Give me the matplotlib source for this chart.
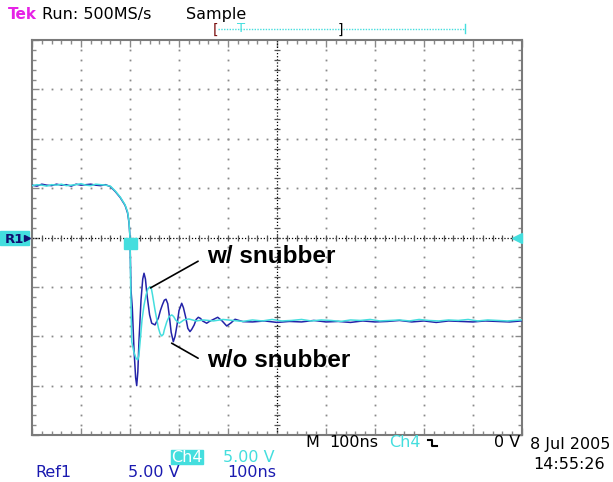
import matplotlib
matplotlib.use("Agg")
import matplotlib.pyplot as plt
import numpy as np
from matplotlib.patches import Rectangle
from matplotlib.ticker import MultipleLocator

W, H = 613, 482

# Ch4: with snubber (cyan), time in ns, voltage in V
t_ch4 = [-200, -190, -180, -170, -160, -150, -140, -130, -120, -110, -100, -90, -80, -70, -60, -50,
         -40, -30, -20, -10, -5, -2, 0, 1.5, 3.5, 8, 12, 15.7, 18, 20, 24.5, 28.5, 32.7, 36.5, 40.8,
         43.5, 46, 51, 58, 61.5, 64.7, 68, 70, 75, 80, 85.3, 89, 93, 100.6, 110, 120, 135, 150, 170,
         190, 210, 230, 250, 270, 290, 310, 330, 350, 370, 390, 410, 430, 450, 470, 490, 510, 530,
         550, 570, 590, 610, 630, 650, 670, 690, 710, 730, 750, 770, 798]
v_ch4 = [5.25, 5.35, 5.3, 5.2, 5.35, 5.3, 5.4, 5.25, 5.3, 5.35, 5.45, 5.3, 5.25, 5.4, 5.35, 5.3,
         5.2, 4.7, 4.1, 3.3, 2.6, 1.6, 0.0, -5.3, -10.55, -11.6, -12.2, -12.4, -12.0, -10.9, -8.35,
         -6.9, -5.82, -5.2, -4.98, -5.15, -5.82, -7.34, -9.16, -9.75, -9.97, -9.8, -9.36, -8.55,
         -8.0, -7.84, -8.0, -8.35, -8.68, -8.35, -8.25, -8.45, -8.35, -8.45, -8.3, -8.4, -8.5,
         -8.35, -8.45, -8.3, -8.45, -8.4, -8.3, -8.45, -8.35, -8.4, -8.5, -8.35, -8.4, -8.3, -8.45,
         -8.4, -8.35, -8.45, -8.3, -8.4, -8.45, -8.35, -8.4, -8.3, -8.45, -8.35, -8.4, -8.45, -8.35]

# Ref1: without snubber (dark blue)
t_ref1 = [-200, -190, -180, -170, -160, -150, -140, -130, -120, -110, -100, -90, -80, -70, -60, -50,
          -40, -30, -20, -10, -5, -2, 0, 2, 4.7, 8.2, 11.5, 13.7, 16, 18.4, 22.5, 26, 28.6, 31.5,
          34.7, 40, 44.3, 51, 58, 62, 66, 70, 73.5, 77, 80, 84, 88.4, 92, 96, 100, 105.5, 109, 114,
          118, 122.4, 126, 131, 135, 139.4, 144, 148, 156.5, 162, 168, 179, 188, 197.3, 206, 214.3,
          230.6, 250, 275, 300, 325, 350, 375, 400, 425, 450, 475, 500, 525, 550, 575, 600, 625, 650,
          675, 700, 725, 750, 775, 798]
v_ref1 = [5.3, 5.2, 5.4, 5.3, 5.25, 5.4, 5.3, 5.35, 5.2, 5.4, 5.3, 5.35, 5.4, 5.3, 5.25, 5.35,
          5.15, 4.65, 4.05, 3.25, 2.5, 1.5, 0.0, -5.3, -7.13, -11.4, -14.2, -15.0, -13.6, -10.4,
          -6.3, -4.2, -3.62, -4.2, -5.82, -7.84, -8.68, -8.85, -8.15, -7.4, -6.83, -6.35, -6.25,
          -6.7, -7.84, -9.6, -10.55, -10.0, -8.85, -7.4, -6.66, -7.1, -8.15, -9.2, -9.53, -9.3,
          -8.85, -8.3, -8.08, -8.2, -8.45, -8.68, -8.5, -8.35, -8.08, -8.45, -8.96, -8.65, -8.28,
          -8.52, -8.55, -8.45, -8.6, -8.5, -8.55, -8.4, -8.55, -8.5, -8.6, -8.45, -8.55, -8.5, -8.4,
          -8.55, -8.45, -8.6, -8.45, -8.5, -8.55, -8.45, -8.5, -8.55, -8.45]

CYAN = "#44dede"
NAVY = "#2323a8"
GRID = "#8a8a8a"

fig = plt.figure(figsize=(W / 100, H / 100), dpi=100)
fig.patch.set_facecolor("white")

# graticule: 10 x 8 divisions, 100 ns/div, 5 V/div
ax = fig.add_axes([32 / W, 1 - 435 / H, 490 / W, 395 / H])
ax.set_xlim(-200, 800)
ax.set_ylim(-20, 20)
for s in ax.spines.values():
    s.set_color("#7a7a7a")
    s.set_linewidth(1.5)
ax.xaxis.set_major_locator(MultipleLocator(100))
ax.xaxis.set_minor_locator(MultipleLocator(20))
ax.yaxis.set_major_locator(MultipleLocator(5))
ax.yaxis.set_minor_locator(MultipleLocator(1))
ax.tick_params(which="both", direction="in", top=True, right=True, color=GRID,
               labelbottom=False, labelleft=False, width=1)
ax.tick_params(which="major", length=5)
ax.tick_params(which="minor", length=3)

# dotted grid
ydots = np.arange(-19, 20, 1)
xdots = np.arange(-180, 800, 20)
for gx in [-100, 0, 100, 200, 400, 500, 600, 700]:
    ax.plot(np.full(len(ydots), gx), ydots, ls="none", marker="s", ms=1.3, mew=0, color=GRID)
for gy in [-15, -10, -5, 5, 10, 15]:
    ax.plot(xdots, np.full(len(xdots), gy), ls="none", marker="s", ms=1.3, mew=0, color=GRID)

# centre cross
ax.plot([-200, 800], [0, 0], ls=(0, (1, 1.5)), lw=0.9, color="black")
ax.plot(xdots, np.zeros(len(xdots)), ls="none", marker="|", ms=5, mew=0.9, color="#555555")
ax.plot([300, 300], [-20, 20], ls=(0, (1, 1.5)), lw=0.9, color="black")
ax.plot(np.full(len(ydots), 300), ydots, ls="none", marker="_", ms=5, mew=0.9, color="#555555")

# traces
ax.plot(t_ref1, v_ref1, color=NAVY, lw=1.1, zorder=4)
ax.plot(t_ch4, v_ch4, color=CYAN, lw=1.1, zorder=5)

ax.annotate("w/ snubber", xy=(42, -5.1), xytext=(157, -1.9), fontsize=17.5, fontweight="bold",
            family="Liberation Sans", ha="left", va="center", zorder=6,
            arrowprops=dict(arrowstyle="-", color="black", lw=1.2, shrinkA=5, shrinkB=0,
                            relpos=(0, 0.5)))
ax.annotate("w/o snubber", xy=(85, -10.7), xytext=(157, -12.5), fontsize=17.5, fontweight="bold",
            family="Liberation Sans", ha="left", va="center", zorder=6,
            arrowprops=dict(arrowstyle="-", color="black", lw=1.2, shrinkA=5, shrinkB=0,
                            relpos=(0, 0.4)))

# screen furniture, in pixel coordinates
ov = fig.add_axes([0, 0, 1, 1], facecolor="none")
ov.set_xlim(0, W)
ov.set_ylim(H, 0)
ov.axis("off")

fs = 11.5
ov.text(8, 19, "Tek", color="#e622e6", fontsize=11, fontweight="bold", va="baseline")
ov.text(42, 19, "Run: 500MS/s", color="black", fontsize=fs, va="baseline")
ov.text(186, 19, "Sample", color="black", fontsize=fs, va="baseline")

ov.plot([218, 465], [28.5, 28.5], ls=(0, (1, 1)), lw=1, color=CYAN)
ov.plot([465, 465], [24, 33], lw=1, color=CYAN)
ov.text(215, 33.5, "[", color="#7a1010", fontsize=10, va="baseline", ha="center")
ov.text(340, 33.5, "]", color="black", fontsize=10, va="baseline", ha="center")
ov.text(241, 32, "T", color=CYAN, fontsize=9.5, va="baseline", ha="center")

# R1 reference marker
ov.add_patch(Rectangle((0, 230.5), 29, 14, color=CYAN, zorder=3))
ov.text(5, 243, "R1", color="#101070", fontsize=9.5, fontweight="bold", va="baseline", zorder=4)
ov.plot([27], [237.5], marker=">", ms=4, color="#101070", zorder=4)
# trigger marker
ov.add_patch(Rectangle((124, 238), 13, 11, color=CYAN, zorder=3))
# right-hand level marker
ov.plot([517], [237.5], marker="<", ms=7, color=CYAN, zorder=4)

ov.text(305, 447, "M", color="black", fontsize=fs, va="baseline")
ov.text(329, 447, "100ns", color="black", fontsize=fs, va="baseline")
ov.text(389, 447, "Ch4", color=CYAN, fontsize=fs, va="baseline")
ov.plot([428, 432, 432, 437], [440, 440, 446, 446], color="black", lw=1.5)
ov.text(520, 447, "0 V", color="black", fontsize=fs, va="baseline", ha="right")
ov.text(530, 449, "8 Jul 2005", color="black", fontsize=fs, va="baseline")
ov.text(533, 469, "14:55:26", color="black", fontsize=fs, va="baseline")

ov.add_patch(Rectangle((171, 449.5), 32, 14, color=CYAN, zorder=3))
ov.text(187, 461.5, "Ch4", color="white", fontsize=fs, va="baseline", ha="center", zorder=4)
ov.text(223, 461.5, "5.00 V", color=CYAN, fontsize=fs, va="baseline")
ov.text(35, 477, "Ref1", color="#1a1ab0", fontsize=fs, va="baseline")
ov.text(128, 477, "5.00 V", color="#1a1ab0", fontsize=fs, va="baseline")
ov.text(227, 477, "100ns", color="#1a1ab0", fontsize=fs, va="baseline")

fig.savefig("out.png", dpi=100)
